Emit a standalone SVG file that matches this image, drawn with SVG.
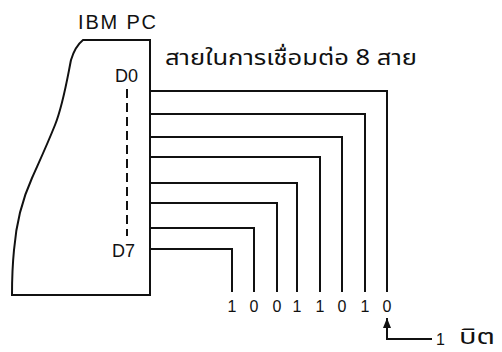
<svg xmlns="http://www.w3.org/2000/svg" width="502" height="352" viewBox="0 0 502 352">
  <style>
    .ln { fill: none; stroke: #111; stroke-width: 2; stroke-linecap: square; stroke-linejoin: miter; }
    .lat { font-family: "Liberation Sans", Arial, sans-serif; fill: #111; }
    .thai { font-family: "Noto Sans Thai", "Noto Sans Thai UI", "Noto Sans", "DejaVu Sans", sans-serif; fill: #111; }
    .bit { font-size: 16px; text-anchor: middle; }
  </style>
  <defs>
    <marker id="arrowHead" viewBox="0 0 10 8" refX="9" refY="4" markerWidth="10" markerHeight="8" markerUnits="userSpaceOnUse" orient="auto">
      <path d="M0,0 L10,4 L0,8 Z" fill="#111"/>
    </marker>
  </defs>
  <rect width="502" height="352" fill="#ffffff"/>

  <!-- PC outline with data pins D0..D7 -->
  <g id="ibm-pc">
    <path class="ln" d="M150,40 L83,40 C78,44 74,50 71,60 C67,80 63,105 55,125 C47,145 40,160 32,178 C22,200 16,225 14,250 C12,270 12,285 12,295 L150,295 Z"/>
    <text class="lat" x="78" y="29" font-size="20" textLength="78" lengthAdjust="spacing">IBM PC</text>
    <text class="lat" x="115" y="82" font-size="18">D0</text>
    <text class="lat" x="112" y="257" font-size="18">D7</text>
    <line class="ln" x1="127" y1="89" x2="127" y2="236" stroke-dasharray="9,5" style="stroke-linecap:butt"/>
  </g>

  <g id="caption">
    <text class="thai" x="165" y="65" font-size="21" textLength="252" lengthAdjust="spacingAndGlyphs">สายในการเชื่อมต่อ 8 สาย</text>
  </g>

  <!-- eight data wires -->
  <g id="connectors">
    <path class="ln" d="M150,91 H387 V291"/>
    <path class="ln" d="M150,114 H365 V291"/>
    <path class="ln" d="M150,137 H342 V291"/>
    <path class="ln" d="M150,157 H320 V291"/>
    <path class="ln" d="M150,183 H297 V291"/>
    <path class="ln" d="M150,203 H277 V291"/>
    <path class="ln" d="M150,228 H254 V291"/>
    <path class="ln" d="M150,249 H232 V291"/>
    <path class="ln" d="M431,339 H387 V319" marker-end="url(#arrowHead)"/>
  </g>

  <g id="bits">
    <text class="lat bit" x="232" y="312">1</text>
    <text class="lat bit" x="254" y="312">0</text>
    <text class="lat bit" x="277" y="312">0</text>
    <text class="lat bit" x="297" y="312">1</text>
    <text class="lat bit" x="320" y="312">1</text>
    <text class="lat bit" x="342" y="312">0</text>
    <text class="lat bit" x="365" y="312">1</text>
    <text class="lat bit" x="387" y="312">0</text>
  </g>

  <g id="bit-label">
    <text class="lat" x="436" y="345" font-size="16">1</text>
    <text class="thai" x="459" y="344" font-size="21" textLength="36" lengthAdjust="spacingAndGlyphs">บิต</text>
  </g>
</svg>
